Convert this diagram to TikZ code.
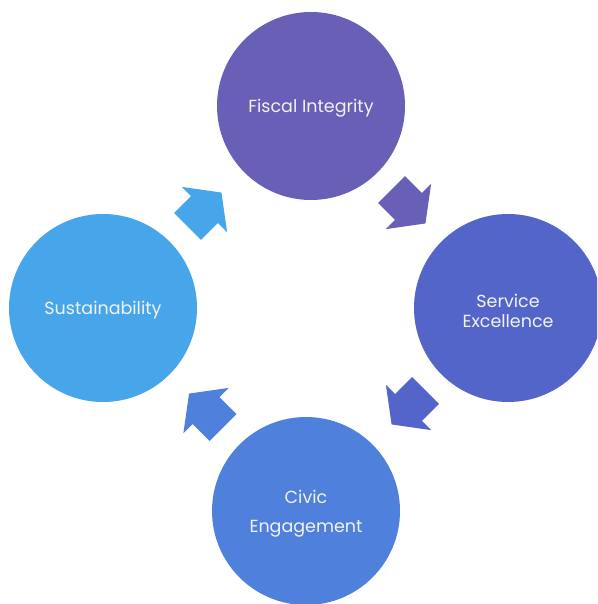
\documentclass[tikz,border=0pt]{standalone}
\usepackage{fontspec}
\setmainfont{Poppins}
\definecolor{cA}{HTML}{685FB6}
\definecolor{cB}{HTML}{5365C8}
\definecolor{cC}{HTML}{4E80DC}
\definecolor{cD}{HTML}{47A6EA}
\definecolor{txt}{HTML}{F2F2F2}
\tikzset{
  bubble/.style={circle, minimum size=188pt, inner sep=0pt, fill=#1},
  bubbletext/.style={text=txt, align=center, inner sep=0pt, yshift=-2.5pt, font=\fontsize{17.5}{20}\selectfont},
  blockarrow/.style={fill=#1, draw=none}
}
\newcommand{\myarrow}[3]{%
  \fill[blockarrow=#3, shift={#1}, rotate=#2]
    (0,-19) -- (24,-19) -- (24,-32) -- (48,0) -- (24,32) -- (24,19) -- (0,19) -- cycle;}
\begin{document}
\begin{tikzpicture}[x=1pt,y=-1pt]
\useasboundingbox (0,0) rectangle (597,604);
\clip (0,0) rectangle (597,604);
\node[bubble=cA] (fiscal) at (311,106) {};
\node[bubble=cB] (service) at (508,308) {};
\node[bubble=cC] (civic) at (306,511) {};
\node[bubble=cD] (sustain) at (103,308) {};
\node[bubbletext] (fiscalT) at (fiscal.center) {Fiscal Integrity};
\node[bubbletext] (serviceT) at (service.center) {Service\\Excellence};
\node[bubbletext, font=\fontsize{17.5}{29}\selectfont] (civicT) at (civic.center) {Civic\\Engagement};
\node[bubbletext] (sustainT) at (sustain.center) {Sustainability};
\myarrow{(391.5,189.5)}{-45}{cA}
\myarrow{(425.5,390.5)}{-135}{cB}
\myarrow{(223,427.5)}{135}{cC}
\myarrow{(187.5,226.5)}{45}{cD}
\end{tikzpicture}
\end{document}
